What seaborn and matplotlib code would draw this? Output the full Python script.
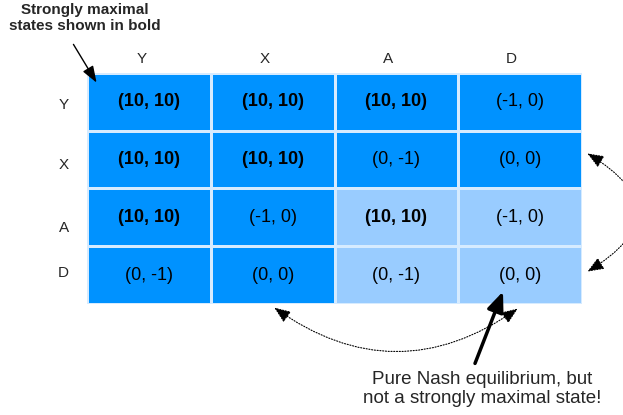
import numpy as np
import matplotlib
matplotlib.use('Agg')
import matplotlib.pyplot as plt
import seaborn as sns
from matplotlib.colors import ListedColormap
from matplotlib.patches import FancyArrowPatch

rows = ['Y', 'X', 'A', 'D']
cols = ['Y', 'X', 'A', 'D']
payoffs = [
    ['(10, 10)', '(10, 10)', '(10, 10)', '(-1, 0)'],
    ['(10, 10)', '(10, 10)', '(0, -1)', '(0, 0)'],
    ['(10, 10)', '(-1, 0)', '(10, 10)', '(-1, 0)'],
    ['(0, -1)', '(0, 0)', '(0, -1)', '(0, 0)'],
]
# 1 = dark cell, 0 = light cell
shade = [
    [1, 1, 1, 1],
    [1, 1, 1, 1],
    [1, 1, 0, 0],
    [1, 1, 0, 0],
]

sns.set_style('white')
plt.rcParams['font.family'] = ['Liberation Sans', 'DejaVu Sans']

fig = plt.figure(figsize=(6.23, 4.15), dpi=100)
ax = fig.add_axes([87 / 623, 1 - 304 / 415, 495 / 623, 231 / 415])

sns.heatmap(np.array(shade), ax=ax, cmap=ListedColormap(['#99ccff', '#0092ff']),
            vmin=0, vmax=1, cbar=False, annot=np.array(payoffs), fmt='',
            annot_kws={'color': 'black', 'fontsize': 13},
            linewidths=1, linecolor='#d6ebff')

# strongly maximal states in bold
for t in ax.texts:
    if t.get_text() == '(10, 10)':
        t.set_fontweight('bold')

# labels sit a little off-centre in the original drawing
ax.set_xticks([0.44, 1.44, 2.43, 3.43], cols)
ax.set_yticks([0.55, 1.6, 2.68, 3.46], rows)
ax.xaxis.tick_top()
ax.tick_params(axis='x', length=0, pad=5, labelsize=11)
ax.tick_params(axis='y', length=0, pad=13, labelsize=11, rotation=0)

def px(x, y):
    return (x / 623, 1 - y / 415)

fig.text(*px(85, 18), 'Strongly maximal\nstates shown in bold', ha='center', va='center',
         fontsize=11, fontweight='bold', linespacing=1.1)
fig.add_artist(FancyArrowPatch(px(72, 42), px(98, 85), transform=fig.transFigure,
                               arrowstyle='-|>,head_length=0.5,head_width=0.18',
                               mutation_scale=20, color='black', lw=1))

fig.text(*px(482, 389), 'Pure Nash equilibrium, but\nnot a strongly maximal state!', ha='center',
         va='center', fontsize=13.5, linespacing=1.1)
fig.add_artist(FancyArrowPatch(px(474, 366), px(504, 289), transform=fig.transFigure,
                               arrowstyle='-|>,head_length=0.6,head_width=0.25',
                               mutation_scale=20, color='black', lw=2.5))

# dotted swap arrows
fig.add_artist(FancyArrowPatch(px(585, 152), px(585, 273), transform=fig.transFigure,
                               connectionstyle='arc3,rad=-0.85',
                               arrowstyle='<|-|>,head_length=0.5,head_width=0.2',
                               mutation_scale=20, color='black', lw=0.8, linestyle=(0, (1, 1.5))))
fig.add_artist(FancyArrowPatch(px(272, 306), px(520, 307), transform=fig.transFigure,
                               connectionstyle='arc3,rad=0.36',
                               arrowstyle='<|-|>,head_length=0.5,head_width=0.2',
                               mutation_scale=20, color='black', lw=0.8, linestyle=(0, (1, 1.5))))

fig.savefig('out.png', dpi=100)
